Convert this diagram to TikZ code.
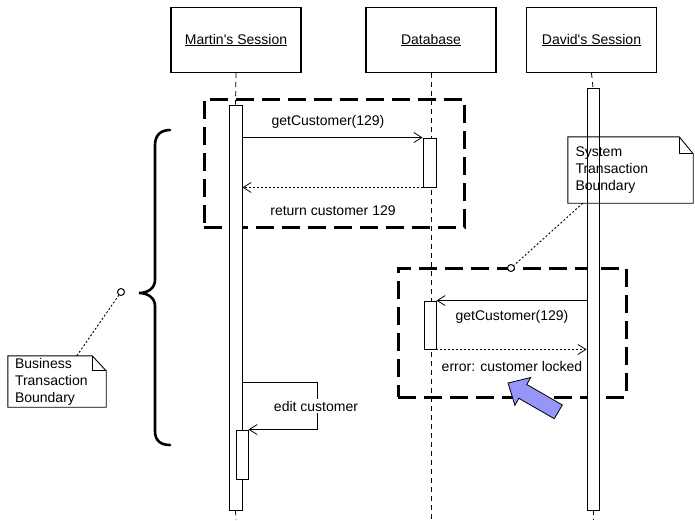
\documentclass[tikz,border=0pt]{standalone}
\usepackage{fontspec}
\setmainfont{Liberation Sans}
\usetikzlibrary{arrows.meta,calc}
\definecolor{arrowblue}{RGB}{150,150,250}
\tikzset{
  head/.style={draw, line width=1.2pt, minimum width=130pt, minimum height=65pt, inner sep=0pt},
  act/.style={draw, fill=white, line width=0.9pt, inner sep=0pt},
  life/.style={dash pattern=on 5pt off 4pt, line width=0.8pt},
  msg/.style={line width=0.9pt, -{Straight Barb[length=8pt,width=10pt,line width=0.8pt]}},
  ret/.style={msg, dash pattern=on 2pt off 2pt},
  tbox/.style={draw, line width=3pt, dash pattern=on 18pt off 8pt, inner sep=0pt},
  lbl/.style={inner sep=1pt},
  notebox/.style={inner sep=0pt, align=left},
  noteline/.style={line width=0.9pt},
  link/.style={line width=0.9pt, dash pattern=on 2pt off 2pt},
  knob/.style={circle, draw, fill=white, inner sep=0pt, minimum size=7pt, line width=1pt},
}
\begin{document}
\begin{tikzpicture}[x=1pt,y=-1pt,font=\fontsize{14}{17}\selectfont]
\useasboundingbox (0,0) rectangle (695,520);

% headers
\node[head] (mh) at (236,40) {\underline{Martin\textquotesingle s Session}};
\node[head] (dbh) at (431,40) {\underline{Database}};
\node[head] (dh) at (591.5,40) {\underline{David\textquotesingle s Session}};

% lifeline end points
\coordinate (mend) at (236,520);
\coordinate (dbend) at (431,520);
\coordinate (dend) at (593,520);

% database lifeline (drawn first, behind everything)
\draw[life] (dbh.south) -- (dbend);

% transaction boxes
\node[tbox, minimum width=260pt, minimum height=128pt] (b1) at (334,163) {};
\node[tbox, minimum width=228pt, minimum height=129pt] (b2) at (512,332.5) {};

% activation bars
\node[act, minimum width=13pt, minimum height=405pt] (ma) at (235.5,307.5) {};
\node[act, minimum width=13pt, minimum height=49pt] (dba1) at (429.5,162.5) {};
\node[act, minimum width=12pt, minimum height=48pt] (dba2) at (430,325) {};
\node[act, minimum width=12pt, minimum height=422pt] (da) at (593,299) {};
\node[act, minimum width=12pt, minimum height=49pt] (sa) at (242,454.5) {};

% other lifelines
\draw[life] (mh.south) -- (ma.north);
\draw[life] (ma.south) -- (mend);
\draw[life] (dh.south) -- (da.north);
\draw[life] (da.south) -- (dend);

% messages, first transaction
\draw[msg] (ma.east |- dba1.north west) -- (dba1.north west);
\draw[ret] (dba1.south west) -- (ma.east |- dba1.south west);
\node[lbl] (l1) at (328,122) {getCustomer(129)};
\node[lbl] (l2) at (333,211) {return customer 129};

% messages, second transaction
\draw[msg] (da.west |- dba2.north east) -- (dba2.north east);
\draw[ret] (dba2.south east) -- (da.west |- dba2.south east);
\node[lbl] (l3) at (512,317) {getCustomer(129)};
\node[lbl] (l4) at (512,366) {error: customer locked};

% self message
\coordinate (s1) at (317,382);
\draw[msg] (ma.east |- s1) -- (s1) -- (s1 |- sa.north) -- (sa.north east);
\node[lbl, fill=white, inner sep=2pt] (l5) at (316,406) {edit customer};

% brace
\coordinate (btip) at (139,293);
\draw[line width=2.6pt, line cap=round]
  (170,130) .. controls (161,130) and (155,135) .. (155,145)
  -- (155,280) .. controls (155,288) and (148,293) .. (btip)
  .. controls (148,293) and (155,298) .. (155,306)
  -- (155,431) .. controls (155,441) and (161,445) .. (170,445);

% notes
\node[notebox, minimum width=125pt, minimum height=66pt, text width=110pt] (n1) at (630.5,170) {System\\Transaction\\Boundary};
\node[notebox, minimum width=98pt, minimum height=51pt, text width=84pt] (n2) at (57,381.5) {Business\\Transaction\\Boundary};
\foreach \n/\fx/\fy in {n1/14/17, n2/14/15}{
  \draw[noteline] (\n.north west) -- ([xshift=-\fx pt]\n.north east)
    -- ([yshift=-\fy pt]\n.north east) -- (\n.south east) -- (\n.south west) -- cycle;
  \draw[noteline] ([xshift=-\fx pt]\n.north east) -- ([xshift=-\fx pt,yshift=-\fy pt]\n.north east)
    -- ([yshift=-\fy pt]\n.north east);
}

% note links
\node[knob] (k1) at (511,268) {};
\node[knob] (k2) at (121,292) {};
\draw[link] ([xshift=15pt]n1.south west) -- (k1);
\draw[link] ([xshift=69pt]n2.north west) -- (k2);

% blue arrow
\draw[fill=arrowblue, line width=0.8pt, line join=miter]
  (508,383) -- (530.7,377.5) -- (526.8,384.5) -- (562.3,404.9)
  -- (554.3,418.7) -- (518.8,398.3) -- (514.9,405.3) -- cycle;
\end{tikzpicture}
\end{document}
